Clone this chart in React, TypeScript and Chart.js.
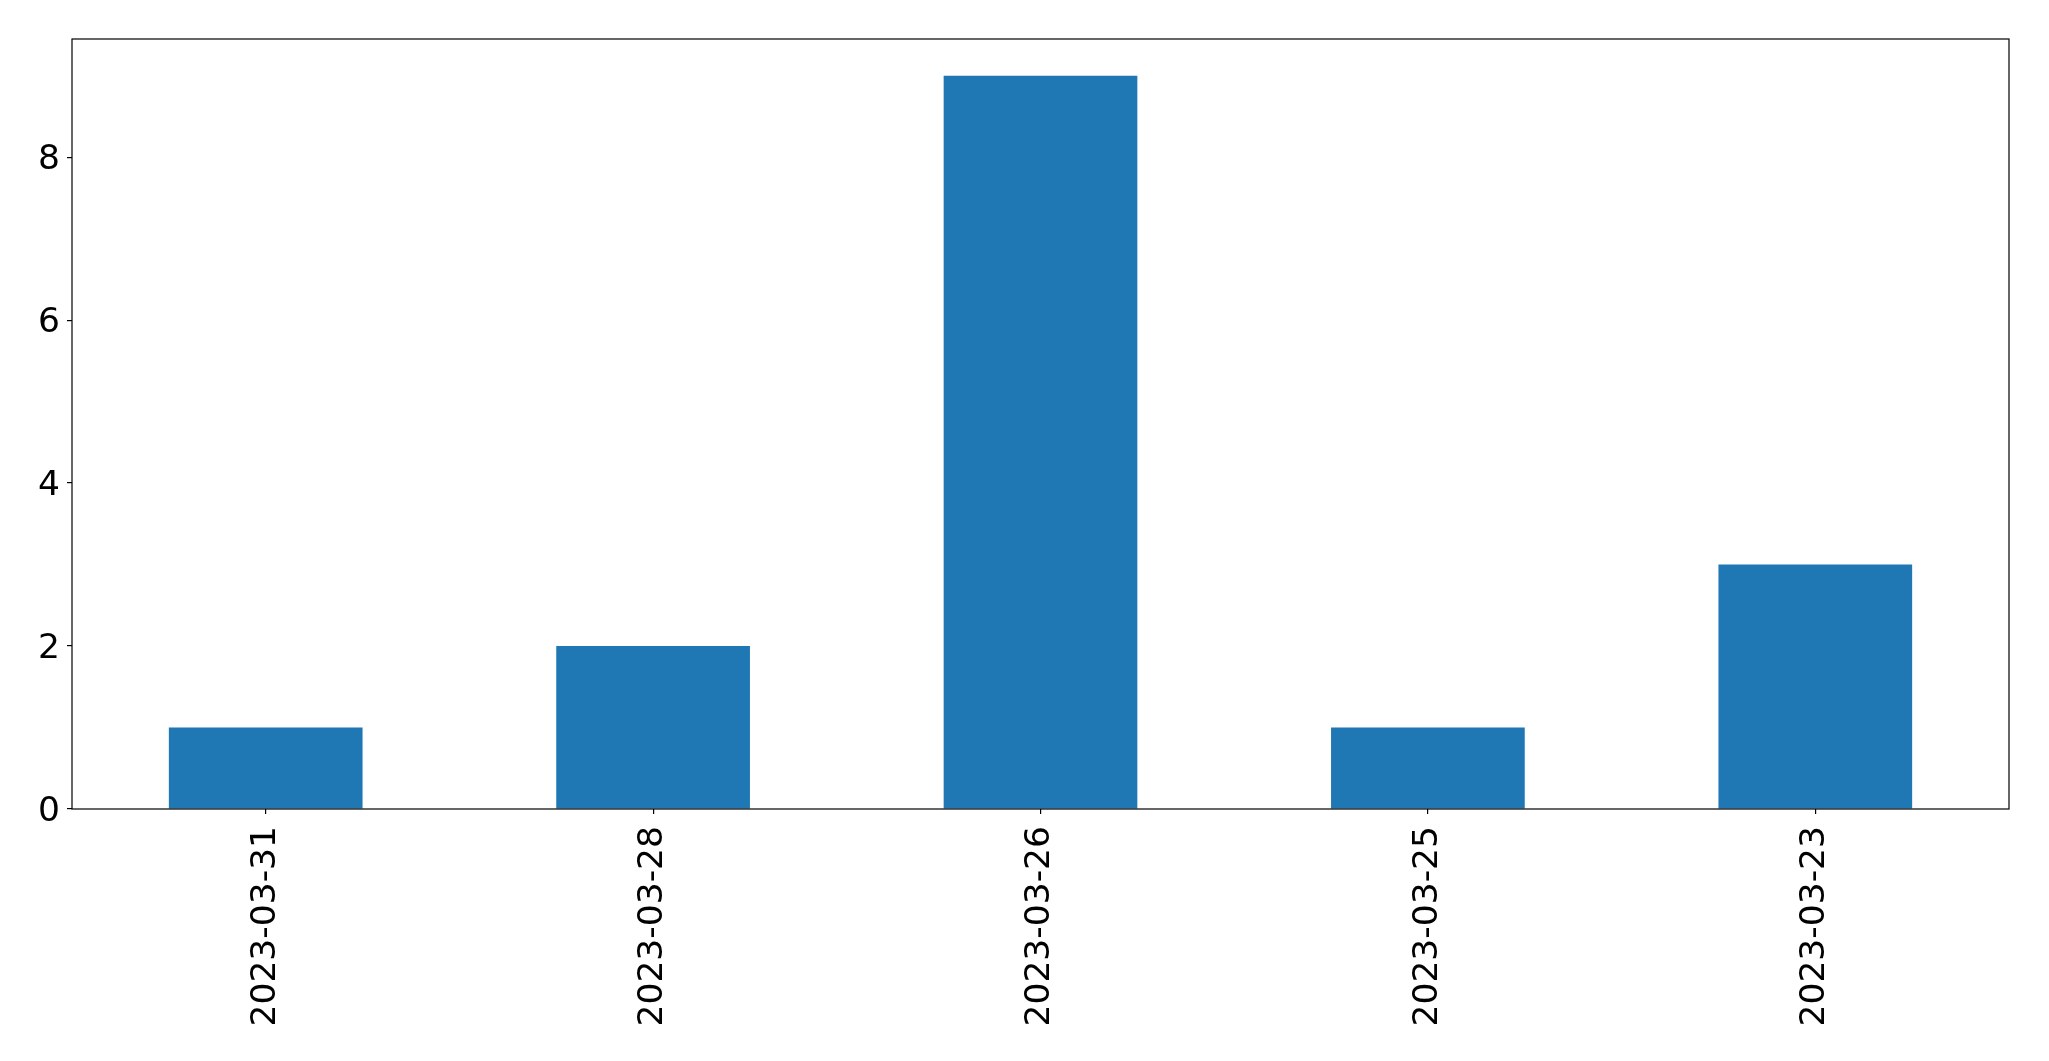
import React, { useEffect, useRef } from "react";
import { Chart, registerables } from "chart.js";

Chart.register(...registerables);

const categories: string[] = ["2023-03-31", "2023-03-28", "2023-03-26", "2023-03-25", "2023-03-23"];
const counts: number[] = [1, 2, 9, 1, 3];
const yTicks: number[] = [0, 2, 4, 6, 8];

const FONT = { family: "'DejaVu Sans', sans-serif", size: 34.5 };

const framePlugin = {
  id: "frame",
  afterDraw(chart: any) {
    const { ctx, chartArea } = chart;
    ctx.save();
    ctx.strokeStyle = "#000";
    ctx.lineWidth = 1.2;
    ctx.strokeRect(chartArea.left, chartArea.top, chartArea.right - chartArea.left, chartArea.bottom - chartArea.top);
    ctx.restore();
  },
};

export default function App() {
  const ref = useRef<HTMLCanvasElement | null>(null);
  useEffect(() => {
    if (!ref.current) return;
    const chart = new Chart(ref.current, {
      type: "bar",
      data: {
        labels: categories,
        datasets: [
          {
            data: counts,
            backgroundColor: "#1f77b4",
            borderWidth: 0,
            barPercentage: 0.5,
            categoryPercentage: 1.0,
          },
        ],
      },
      options: {
        responsive: false,
        animation: false,
        devicePixelRatio: 1,
        layout: { padding: { left: 0, top: 39, right: 40, bottom: 0 } },
        plugins: { legend: { display: false }, tooltip: { enabled: false } },
        scales: {
          x: {
            offset: true,
            border: { display: false },
            grid: { display: true, drawOnChartArea: false, drawTicks: true, tickLength: 5, color: "#000", offset: false, lineWidth: 1.2 },
            ticks: { font: FONT, color: "#000", minRotation: 90, maxRotation: 90, padding: 12, autoSkip: false },
            afterFit: (s: any) => { s.height = 252; },
          },
          y: {
            min: 0,
            max: counts.reduce((a, b) => Math.max(a, b), 0) * 1.05,
            border: { display: false },
            grid: { display: true, drawOnChartArea: false, drawTicks: true, tickLength: 5, color: "#000", lineWidth: 1.2 },
            afterBuildTicks: (s: any) => { s.ticks = yTicks.map((v) => ({ value: v })); },
            ticks: { font: FONT, color: "#000", padding: 7, labelOffset: 3, callback: (v: any) => String(v) },
            afterFit: (s: any) => { s.width = 72; },
          },
        },
      },
      plugins: [framePlugin],
    });
    return () => chart.destroy();
  }, []);
  return (
    <div style={{ position: "absolute", left: 0, top: 0, width: 2049, height: 1061, background: "#fff" }}>
      <canvas ref={ref} width={2049} height={1061} style={{ display: "block" }} />
    </div>
  );
}
